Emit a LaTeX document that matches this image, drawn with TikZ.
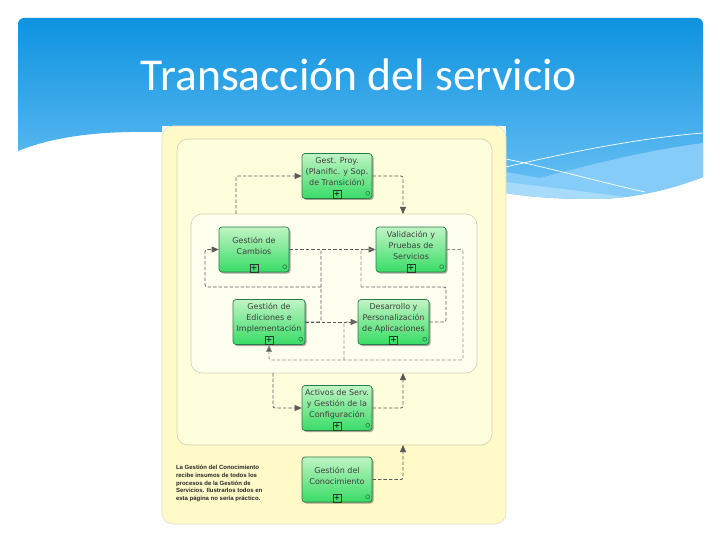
\documentclass[tikz,border=0pt]{standalone}
\usepackage{fontspec}
\setmainfont{DejaVu Sans}
\newfontfamily\titlefont{Carlito}
\newfontfamily\notefont{Liberation Sans}
\usetikzlibrary{arrows.meta,positioning,shadows}
\definecolor{slidetop}{HTML}{0E93E0}
\definecolor{slidelow}{HTML}{6CC1F4}
\definecolor{wavemid}{HTML}{85CCF8}
\definecolor{wavelight}{HTML}{A8DAFA}
\definecolor{paneledge}{HTML}{FFFAC8}
\definecolor{panelmid}{HTML}{FFFEDC}
\definecolor{panelinner}{HTML}{FFFFF0}
\definecolor{panelline}{HTML}{CFCFB0}
\definecolor{tasktop}{HTML}{C0F4C4}
\definecolor{tasklow}{HTML}{38DC66}
\definecolor{taskline}{HTML}{2C7A4C}
\definecolor{flowgray}{HTML}{5A5A5A}
\definecolor{flowpale}{HTML}{8E8E86}
\tikzset{
    taskbox/.style={rectangle, draw=taskline, top color=tasktop, bottom color=tasklow, rounded corners=3pt, line width=0.7pt,
        minimum width=70pt, minimum height=45pt, inner sep=0pt,
        drop shadow={shadow xshift=1.5pt, shadow yshift=-1.5pt, fill=black, opacity=0.35}},
    tasklabel/.style={align=center, font=\fontsize{8}{11}\selectfont, text=black!75, yshift=4pt},
    plusbox/.style={rectangle, draw=black!80, line width=0.5pt, minimum size=8pt, inner sep=0pt, font=\fontsize{7.5}{8}\selectfont},
    taskmark/.style={circle, draw=taskline, line width=0.6pt, minimum size=4pt, inner sep=0pt},
    groupbox/.style={rectangle, draw=panelline, rounded corners=11pt, line width=0.6pt},
    flow/.style={draw=flowgray, line width=0.8pt, dash pattern=on 3.5pt off 2pt, rounded corners=2pt},
    flowhead/.style={flow, -{Triangle[length=7pt, width=6pt, fill=flowgray]}},
}
\begin{document}
\begin{tikzpicture}[x=1pt, y=-1pt]
    \useasboundingbox (0,0) rectangle (720,540);
    \fill[white] (0,0) rectangle (720,540);

    % Slide background
    \shade[top color=slidetop, bottom color=slidelow, rounded corners=6pt] (18,151) -- (18,18) -- (703,18) -- (703,60) [sharp corners] -- (703,177)
        .. controls (670,190) and (630,199) .. (593,199) .. controls (560,199) and (530,197) .. (506,193) -- (162,132)
        .. controls (110,131) and (60,134) .. (18,151) -- cycle;
    \fill[white] (162,132) -- (506,193) -- (506,300) -- (162,300) -- cycle;

    % Waves
    \fill[wavemid] (506,172) -- (540,178) .. controls (600,162) and (650,150) .. (703,143) -- (703,177)
        .. controls (670,190) and (630,199) .. (593,199) .. controls (560,199) and (530,197) .. (506,193) -- cycle;
    \fill[wavelight] (506,182) .. controls (545,187) and (590,192) .. (625,197) .. controls (615,198) and (605,199) .. (593,199)
        .. controls (560,199) and (530,197) .. (506,193) -- cycle;
    \draw[white, line width=0.7pt] (506,167) .. controls (570,152) and (640,138) .. (703,133);
    \draw[white, line width=0.7pt] (506,159) .. controls (550,168) and (600,182) .. (645,192);

    % Title
    \node[font=\titlefont\fontsize{45.6}{46}\selectfont, text=white] (title) at (359,75) {Transacción del servicio};

    % Panels
    \fill[white] (162,126) rectangle (506,524);
    \node[groupbox, draw=panelline!70, fill=paneledge, minimum width=344pt, minimum height=398pt] (sheet) at (334,325) {};
    \node[groupbox, fill=panelmid, minimum width=315pt, minimum height=306pt] (outer) at (334.5,292) {};
    \node[groupbox, fill=panelinner, minimum width=286pt, minimum height=159pt] (inner) at (334,293.5) {};

    % Tasks
    \node[taskbox, label={[tasklabel]center:{Gest. Proy.\\(Planific. y Sop.\\de Transición)}}] (proy) at (337,176) {};
    \node[taskbox, label={[tasklabel]center:{Gestión de\\Cambios}}] (cambios) at (254,249.5) {};
    \node[taskbox, label={[tasklabel]center:{Validación y\\Pruebas de\\Servicios}}] (valid) at (411,249.5) {};
    \node[taskbox, minimum width=72pt, label={[tasklabel]center:{Gestión de\\Ediciones e\\Implementación}}] (edic) at (269,322) {};
    \node[taskbox, minimum width=71pt, label={[tasklabel]center:{Desarrollo y\\Personalización\\de Aplicaciones}}] (desar) at (393.5,322) {};
    \node[taskbox, label={[tasklabel]center:{Activos de Serv.\\y Gestión de la\\Configuración}}] (activos) at (337,408) {};
    \node[taskbox, label={[tasklabel]center:{Gestión del\\Conocimiento}}] (conoc) at (337,479.5) {};

    % Markers
    \foreach \task in {proy,cambios,valid,edic,desar,activos,conoc} {
        \node[plusbox, above=0pt of \task.south] (\task plus) {+};
        \node[taskmark, above left=4pt and 3pt of \task.south east] (\task mark) {};
    }

    % Note
    \node[anchor=north west, align=left, font=\notefont\fontsize{6}{7.6}\selectfont\bfseries, text=black!85] (note) at (172.5,462)
        {La Gestión del Conocimiento\\recibe insumos de todos los\\procesos de la Gestión de\\Servicios. Ilustrarlos todos en\\esta página no sería práctico.};

    % Free ends on the panels
    \coordinate (innertopl) at (236,214);
    \coordinate (innertopr) at (403,214);
    \coordinate (innerlowl) at (273,373);
    \coordinate (innerlowr) at (403,373);
    \coordinate (outerlow) at (403,445);

    % Around the inner panel
    \draw[flowhead] (innertopl) |- (proy.west);
    \draw[flowhead] (proy.east) -| (innertopr);
    \draw[flowhead] (innerlowl) |- (activos.west);
    \draw[flowhead] (activos.east) -| (innerlowr);
    \draw[flowhead] (conoc.east) -| (outerlow);

    % Inside the inner panel
    \coordinate (jtop) at (321,249.5);
    \coordinate (jmid) at (321,287);
    \coordinate (jback) at (205,287);
    \draw[flowhead] (cambios.east) -- (valid.west);
    \draw[flowhead] (edic.east) -- (desar.west);
    \draw[flow] (edic.east) -| (jtop);
    \draw[flowhead] (jmid) -- (jback) |- (cambios.west);

    \coordinate (vright) at (463,360);
    \coordinate (vjoin) at (344,360);
    \coordinate (dback) at (361,287);
    \coordinate (dright) at (446,287);
    \draw[flowhead, draw=flowpale] (valid.east) -| (vright) -- (vjoin) -- (vjoin -| edic.south) -- (edic.south);
    \draw[flow, draw=flowpale] (vjoin) |- (desar.west);
    \draw[flow] (desar.east) -| (dright) -- (dback);
    \draw[flow, draw=flowpale] (dback) |- (valid.west);
\end{tikzpicture}
\end{document}
